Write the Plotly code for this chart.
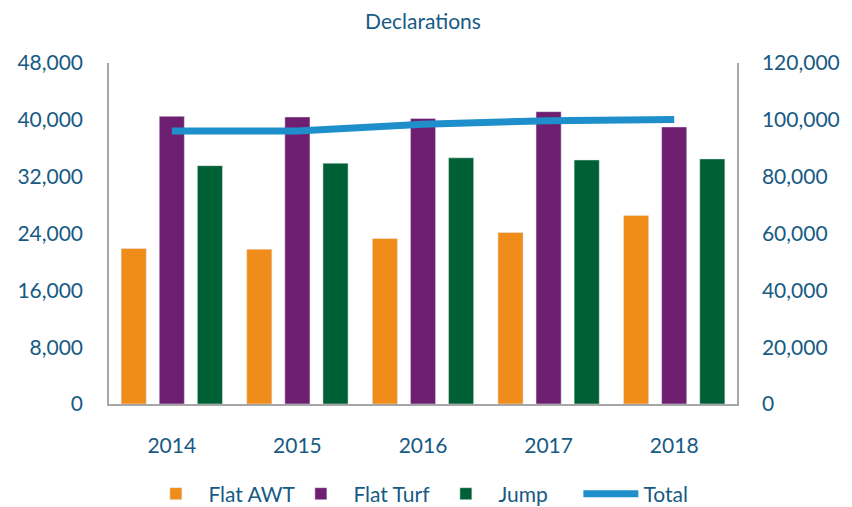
import plotly.graph_objects as go

years = ["2014", "2015", "2016", "2017", "2018"]
flat_awt = [21900, 21800, 23300, 24150, 26550]
flat_turf = [40500, 40400, 40200, 41150, 39000]
jump = [33550, 33900, 34650, 34350, 34500]
total = [96050, 96050, 98450, 99700, 100150]

left_ticks = [0, 8000, 16000, 24000, 32000, 40000, 48000]
right_ticks = [0, 20000, 40000, 60000, 80000, 100000, 120000]

txt = "#175A84"
font = "Lato"

fig = go.Figure()
fig.add_trace(go.Bar(x=years, y=flat_awt, name="Flat AWT", marker_color="#F08C1A"))
fig.add_trace(go.Bar(x=years, y=flat_turf, name="Flat Turf", marker_color="#6E1F6F"))
fig.add_trace(go.Bar(x=years, y=jump, name="Jump", marker_color="#006035"))
fig.add_trace(go.Scatter(x=years, y=total, name="Total", yaxis="y2", mode="lines",
                         line=dict(color="#1E8FCB", width=7)))

fig.update_layout(
    width=844, height=499,
    margin=dict(l=101, r=115, t=55, b=103, autoexpand=False),
    paper_bgcolor="white", plot_bgcolor="white",
    font=dict(family=font, size=21, color=txt),
    title=dict(text="Declarations", x=0.5, xref="paper", y=0.972, yref="container",
               yanchor="middle", font=dict(size=21, color=txt)),
    barmode="group", bargap=0.09, bargroupgap=0.34,
    showlegend=True,
    legend=dict(orientation="h", x=0.504, xref="container", xanchor="center",
                y=-0.264, yanchor="middle", font=dict(size=21, color=txt),
                traceorder="normal", itemwidth=55, entrywidth=75,
                entrywidthmode="pixels"),
    xaxis=dict(showline=True, linecolor="#A6A6A6", linewidth=1.5, showgrid=False,
               ticks="", ticklabelstandoff=22, tickangle=0,
               tickfont=dict(size=21, color=txt)),
    yaxis=dict(range=[0, 48000], tickvals=left_ticks, tickformat=",d",
               showline=True, linecolor="#A6A6A6", linewidth=1.5, showgrid=False,
               zeroline=False, ticks="", ticklabelstandoff=20,
               tickfont=dict(size=21, color=txt)),
    yaxis2=dict(range=[0, 120000], tickvals=right_ticks, tickformat=",d",
                overlaying="y", side="right",
                showline=True, linecolor="#A6A6A6", linewidth=1.5, showgrid=False,
                zeroline=False, ticks="", ticklabelstandoff=19,
                tickfont=dict(size=21, color=txt)),
)

fig.write_html("out.html")
